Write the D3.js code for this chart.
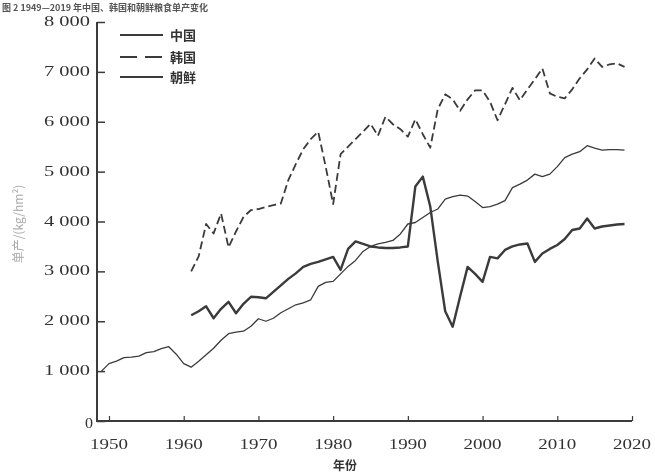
<!DOCTYPE html>
<html>
<head>
<meta charset="utf-8">
<script src="https://cdn.jsdelivr.net/npm/d3@7"></script>
<style>
  body { margin: 0; background: #fff; }
  svg { display: block; }
</style>
</head>
<body>
<div id="main"></div>
<script>

// yield, kg/hm2
var chinaStart = 1949;
var chinaYield = [
  1000, 1150, 1200, 1270, 1280, 1300, 1370, 1390, 1450, 1490,   // 1949-1958
  1340, 1150, 1080, 1200, 1330, 1460, 1620, 1750, 1780, 1800,   // 1959-1968
  1900, 2050, 2000, 2060, 2170, 2250, 2330, 2370, 2430, 2700,   // 1969-1978
  2780, 2800, 2950, 3100, 3220, 3400, 3500, 3550, 3580, 3620,   // 1979-1988
  3750, 3950, 3980, 4080, 4180, 4250, 4450, 4500, 4530, 4510,   // 1989-1998
  4400, 4280, 4300, 4350, 4420, 4680, 4750, 4830, 4950, 4900,   // 1999-2008
  4950, 5100, 5280, 5350, 5400, 5520, 5470, 5430, 5440, 5440,   // 2009-2018
  5430                                                          // 2019
];

var koreaStart = 1961;
var southKoreaYield = [
  3000, 3300, 3950, 3760, 4160, 3480, 3800, 4090, 4230, 4250,   // 1961-1970
  4290, 4330, 4360, 4830, 5150, 5450, 5650, 5800, 5100, 4350,   // 1971-1980
  5350, 5500, 5650, 5800, 5960, 5720, 6100, 5950, 5850, 5700,   // 1981-1990
  6050, 5750, 5480, 6250, 6550, 6450, 6220, 6450, 6630, 6630,   // 1991-2000
  6400, 6030, 6350, 6680, 6430, 6650, 6850, 7070, 6570, 6500,   // 2001-2010
  6470, 6650, 6870, 7050, 7270, 7100, 7150, 7170, 7100          // 2011-2019
];
var northKoreaYield = [
  2120, 2200, 2300, 2060, 2250, 2390, 2160, 2350, 2490, 2480,   // 1961-1970
  2460, 2590, 2720, 2850, 2960, 3090, 3150, 3190, 3240, 3290,   // 1971-1980
  3030, 3450, 3600, 3550, 3500, 3480, 3470, 3470, 3480, 3500,   // 1981-1990
  4700, 4900, 4300, 3200, 2200, 1890, 2500, 3090, 2950, 2790,   // 1991-2000
  3290, 3260, 3430, 3500, 3540, 3560, 3190, 3360, 3450, 3530,   // 2001-2010
  3650, 3830, 3860, 4060, 3860, 3900, 3920, 3940, 3950          // 2011-2019
];

var seriesNames = ["中国", "韩国", "朝鲜"];
var yTicks = [0, 1000, 2000, 3000, 4000, 5000, 6000, 7000, 8000];
var xTicks = [1950, 1960, 1970, 1980, 1990, 2000, 2010, 2020];

var w = 655;
var h = 475;
var ink = "#3a3a3a";

window.onload = function () {

  var x = d3.scaleLinear().domain([1950, 2020]).range([109, 632]);
  var y = d3.scaleLinear().domain([0, 8000]).range([421, 22]);
  var axisX = 97;

  var fmt = d3.formatLocale({decimal: ".", thousands: " ", grouping: [3], currency: ["", ""]}).format(",");

  function toPoints(start, values) {
    return values.map(function (v, i) { return {year: start + i, value: v}; });
  }
  var series = [
    {name: seriesNames[0], data: toPoints(chinaStart, chinaYield), width: 1.3, dash: null, legendDash: null},
    {name: seriesNames[1], data: toPoints(koreaStart, southKoreaYield), width: 1.8, dash: "8,4", legendDash: "17,8"},
    {name: seriesNames[2], data: toPoints(koreaStart, northKoreaYield), width: 2.4, dash: null, legendDash: null}
  ];

  var svg = d3.select("#main").append("svg")
      .attr("width", w)
      .attr("height", h);

  // soft blur, the original is a scan
  svg.append("defs").append("filter")
      .attr("id", "scan")
      .append("feGaussianBlur")
      .attr("stdDeviation", 0.55);

  var g = svg.append("g").attr("filter", "url(#scan)");

  // caption strip along the top edge
  g.append("text")
      .attr("x", 2)
      .attr("y", 11)
      .attr("font-family", "Noto Sans CJK SC")
      .attr("font-size", 9)
      .attr("font-weight", "bold")
      .attr("fill", "#555")
      .text("图 2  1949—2019 年中国、韩国和朝鲜粮食单产变化");

  // y axis, ticks pointing inward
  var yAxis = d3.axisRight(y).tickValues(yTicks).tickSize(8).tickFormat("");
  var ya = g.append("g")
      .attr("transform", "translate(" + axisX + ",0)")
      .call(yAxis);
  ya.select(".domain").attr("d", "M0," + y(8000) + "V" + (y(0) + 1));
  ya.selectAll("line").attr("stroke", ink).attr("stroke-width", 1.5);
  ya.select(".domain").attr("stroke", ink).attr("stroke-width", 2);

  g.selectAll(".ylab")
      .data(yTicks)
      .enter()
      .append("text")
      .attr("class", "ylab")
      .attr("x", function (d) { return d === 0 ? 93 : 90; })
      .attr("y", function (d) { return y(d) + (d === 0 ? 7 : 4); })
      .attr("text-anchor", "end")
      .attr("font-family", "Liberation Serif")
      .attr("font-size", 14)
      .attr("fill", "#333")
      .attr("textLength", function (d) { return d === 0 ? 8 : 46; })
      .attr("lengthAdjust", "spacingAndGlyphs")
      .text(function (d) { return fmt(d); });

  // x axis, ticks pointing up
  var xAxis = d3.axisTop(x).tickValues(xTicks).tickSize(5).tickFormat("");
  var xa = g.append("g")
      .attr("transform", "translate(0," + y(0) + ")")
      .call(xAxis);
  xa.select(".domain").attr("d", "M" + axisX + ",0H" + x(2020));
  xa.select(".domain").attr("stroke", ink).attr("stroke-width", 2);
  xa.selectAll("line").attr("stroke", ink).attr("stroke-width", 1.2);

  g.selectAll(".xlab")
      .data(xTicks)
      .enter()
      .append("text")
      .attr("class", "xlab")
      .attr("x", function (d) { return x(d); })
      .attr("y", 449)
      .attr("text-anchor", "middle")
      .attr("font-family", "Liberation Serif")
      .attr("font-size", 14)
      .attr("fill", "#333")
      .attr("textLength", 38)
      .attr("lengthAdjust", "spacingAndGlyphs")
      .text(function (d) { return d; });

  g.append("text")
      .attr("x", 345)
      .attr("y", 470)
      .attr("text-anchor", "middle")
      .attr("font-family", "Noto Sans CJK SC")
      .attr("font-size", 12)
      .attr("font-weight", "bold")
      .attr("fill", "#333")
      .text("年份");

  g.append("text")
      .attr("transform", "translate(23,224) rotate(-90)")
      .attr("text-anchor", "middle")
      .attr("font-family", "Noto Sans CJK SC")
      .attr("font-size", 12)
      .attr("fill", "#aaa")
      .text("单产/(kg/hm²)");

  // lines
  var line = d3.line()
      .x(function (d) { return x(d.year); })
      .y(function (d) { return y(d.value); });

  g.selectAll(".series")
      .data(series)
      .enter()
      .append("path")
      .attr("class", "series")
      .attr("d", function (d) { return line(d.data); })
      .attr("fill", "none")
      .attr("stroke", ink)
      .attr("stroke-width", function (d) { return d.width; })
      .attr("stroke-dasharray", function (d) { return d.dash; })
      .attr("stroke-linejoin", "round");

  // legend
  var legY = [35, 57, 77];
  var leg = g.selectAll(".leg")
      .data(series)
      .enter()
      .append("g")
      .attr("class", "leg")
      .attr("transform", function (d, i) { return "translate(120," + legY[i] + ")"; });
  leg.append("line")
      .attr("x1", 0).attr("x2", 43)
      .attr("stroke", ink)
      .attr("stroke-width", 2)
      .attr("stroke-dasharray", function (d) { return d.legendDash; });
  leg.append("text")
      .attr("x", 50)
      .attr("y", 5)
      .attr("font-family", "Noto Sans CJK SC")
      .attr("font-size", 13)
      .attr("font-weight", "bold")
      .attr("fill", "#333")
      .text(function (d) { return d.name; });
};
</script>
</body>
</html>
